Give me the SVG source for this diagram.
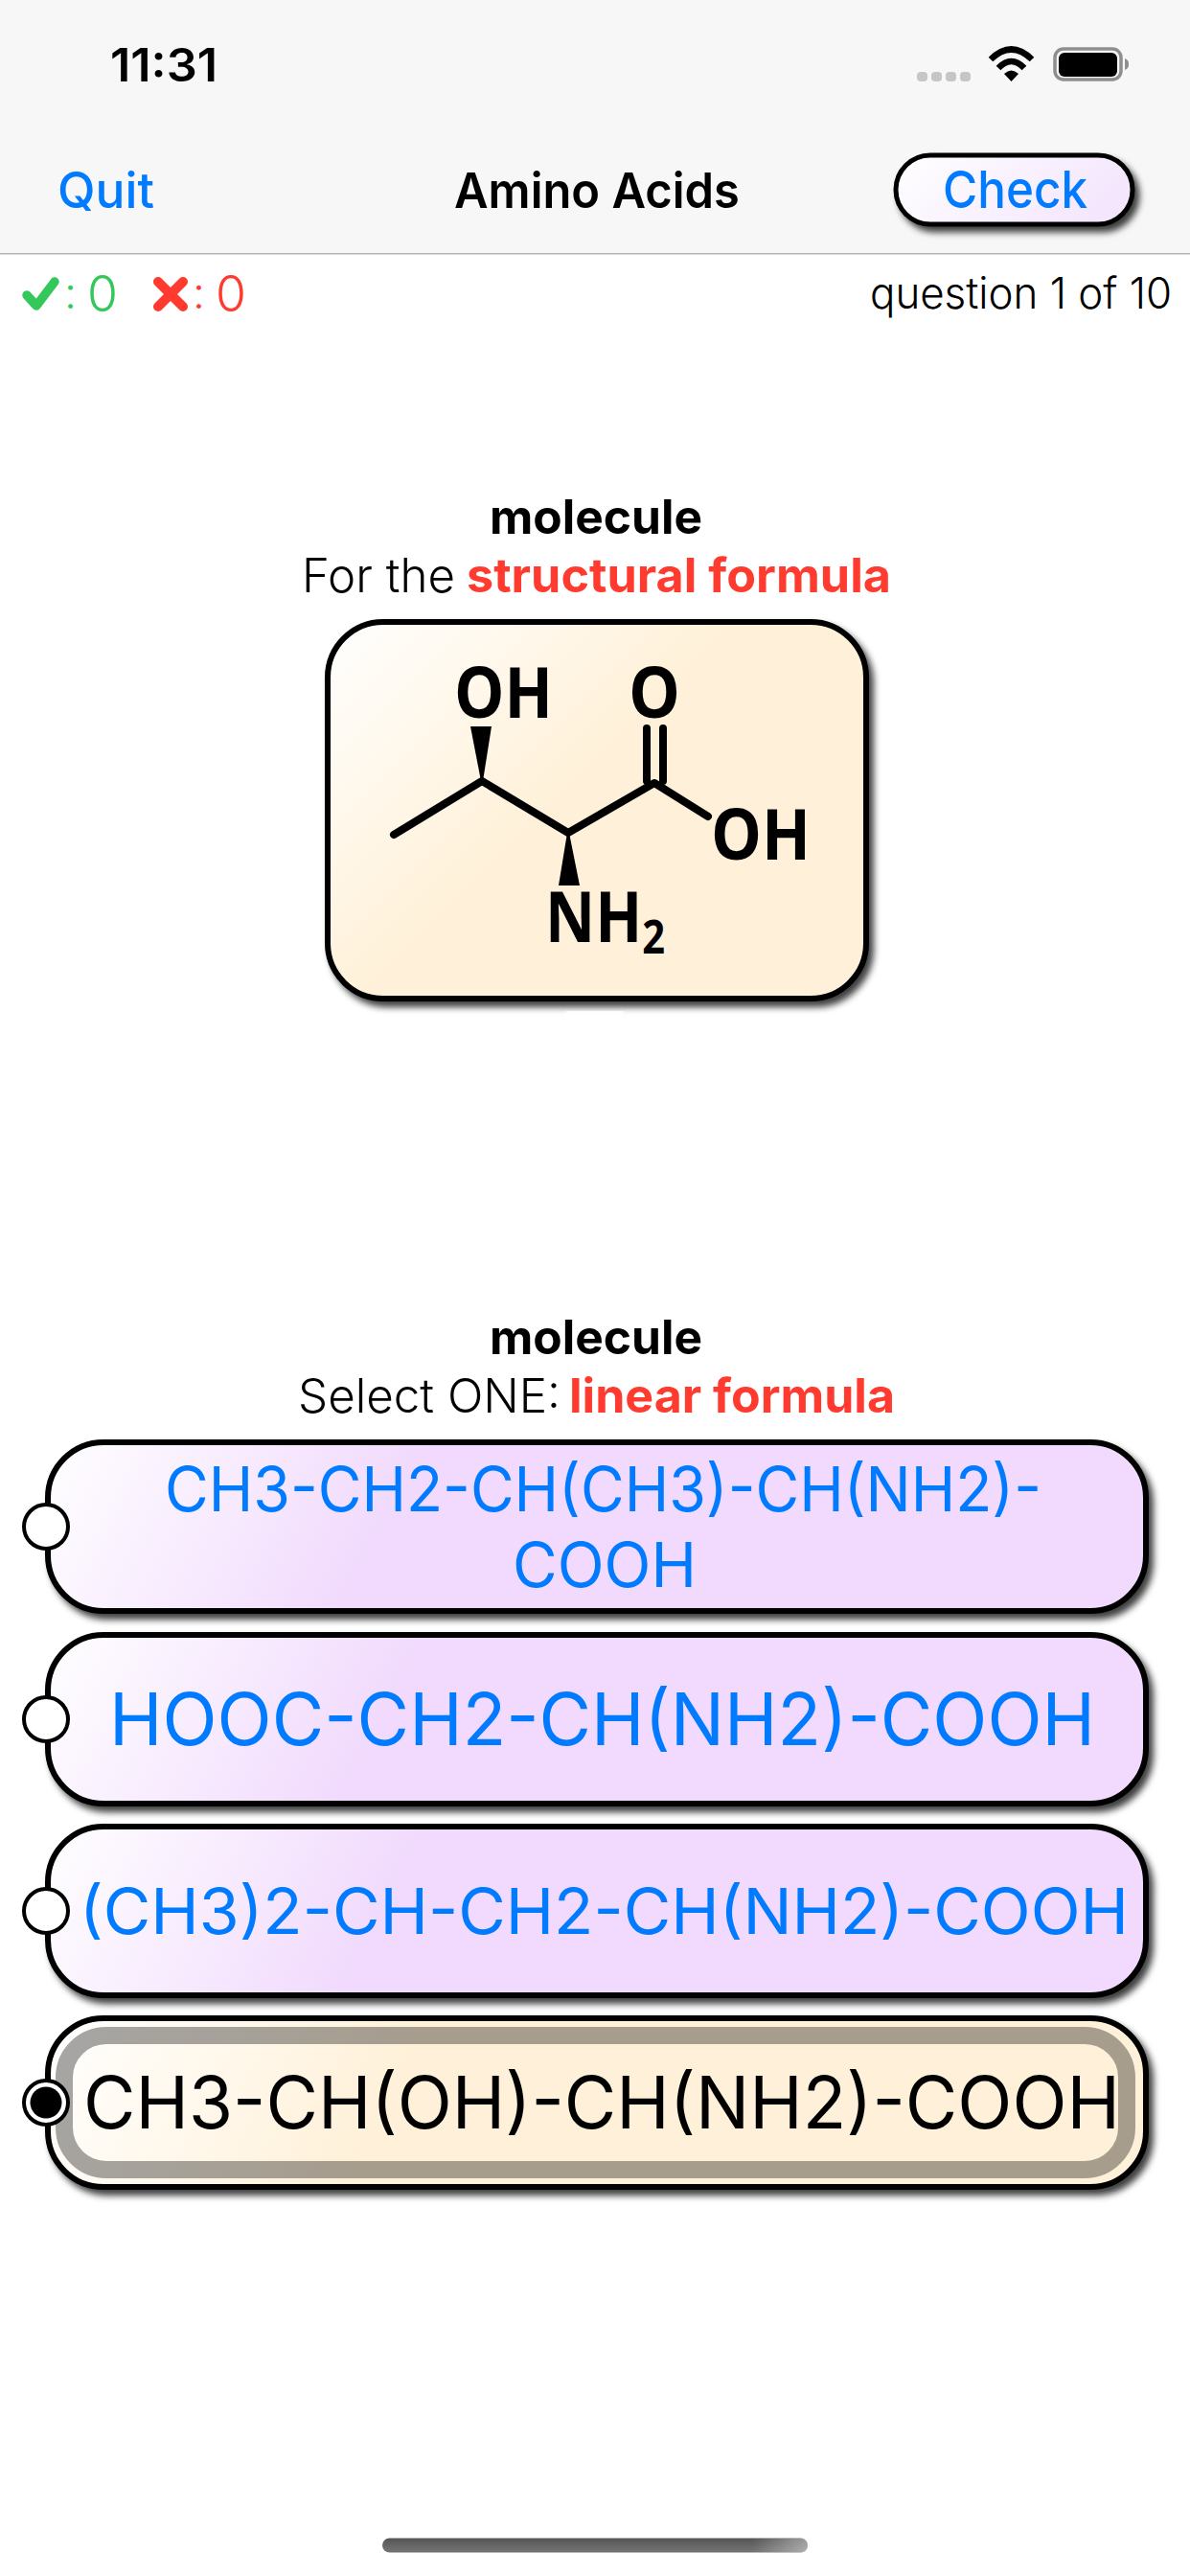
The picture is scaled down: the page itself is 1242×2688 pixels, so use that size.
<svg xmlns="http://www.w3.org/2000/svg" width="1242" height="2688" viewBox="0 0 1242 2688">
<defs>
<linearGradient id="purple" gradientUnits="userSpaceOnUse" x1="0" y1="0" x2="317" y2="164"><stop offset="0" stop-color="#fff"/><stop offset="1" stop-color="#f1dafd"/></linearGradient>
<linearGradient id="cream" gradientUnits="userSpaceOnUse" x1="0" y1="0" x2="317" y2="164"><stop offset="0" stop-color="#fff"/><stop offset="1" stop-color="#fff1d9"/></linearGradient>
<linearGradient id="cardfill" gradientUnits="userSpaceOnUse" x1="0" y1="0" x2="215" y2="215"><stop offset="0" stop-color="#fff"/><stop offset="1" stop-color="#fff1d9"/></linearGradient>
<linearGradient id="checkfill" x1="0" y1="0" x2="1" y2="0.3"><stop offset="0" stop-color="#fff"/><stop offset="1" stop-color="#f4e7fd"/></linearGradient>
<linearGradient id="home" x1="0" y1="0" x2="0" y2="1"><stop offset="0" stop-color="#555"/><stop offset="1" stop-color="#757575"/></linearGradient>
<linearGradient id="homeend" x1="0" y1="0" x2="1" y2="0"><stop offset="0.87" stop-color="#fff" stop-opacity="0"/><stop offset="1" stop-color="#fff" stop-opacity="0.42"/></linearGradient>
<filter id="sh" x="-10%" y="-20%" width="120%" height="145%"><feDropShadow dx="5" dy="6" stdDeviation="3.500" flood-color="#000" flood-opacity="0.75"/></filter>
</defs>
<style>
text{font-family:"Inter","Liberation Sans",sans-serif}
.box{stroke:#000;stroke-width:6;filter:url(#sh)}
.opt{fill:#007aff}
.sel{fill:#000}
.title{font-weight:700;font-size:50px;fill:#000}
.lite{font-weight:300;font-size:49px;fill:#000}
.red{font-weight:700;font-size:49px;fill:#ff3b30}
.radio{fill:#fff;stroke:#000;stroke-width:4}
.bond{stroke:#000;stroke-width:8;stroke-linecap:round;stroke-linejoin:round;fill:none}
.chem{font-family:"Open Sans","Liberation Sans",sans-serif;font-weight:700;fill:#000;font-size:74px}
</style>
<rect width="1242" height="2688" fill="#fff"/>
<g id="statusbar">
<rect width="1242" height="264" fill="#f7f7f7"/>
<rect y="264" width="1242" height="1.500" fill="#b4b4b4"/>
<text x="115" y="85" font-size="48" font-weight="600" fill="#000" textLength="112" lengthAdjust="spacingAndGlyphs">11:31</text>
<g fill="#c6c6c6"><rect x="957" y="75" width="11" height="10" rx="4"/><rect x="972" y="75" width="11" height="10" rx="4"/><rect x="987" y="75" width="11" height="10" rx="4"/><rect x="1002" y="75" width="11" height="10" rx="4"/></g>
<g fill="none" stroke="#000" stroke-width="6.500"><path d="M1034 62Q1055.500 41 1077 62"/><path d="M1042 71Q1055.500 57 1069 71"/></g>
<path d="M1048 77Q1055.500 70 1063 77L1055.500 85z" fill="#000"/>
<rect x="1101" y="51" width="69" height="32" rx="9" fill="none" stroke="#8e8e8e" stroke-width="3.500"/>
<rect x="1105" y="55" width="61" height="25" rx="6" fill="#000"/>
<path d="M1174 61a6 6 0 0 1 4 6a6 6 0 0 1-4 6z" fill="#8e8e8e"/>
</g>
<g id="navbar">
<text x="60" y="217" font-size="52" font-weight="500" fill="#007aff" textLength="101" lengthAdjust="spacingAndGlyphs">Quit</text>
<text x="474" y="217" font-size="51" font-weight="600" fill="#000" textLength="298" lengthAdjust="spacingAndGlyphs">Amino Acids</text>
<g id="check-button"><rect x="935" y="162" width="247" height="72" rx="36" fill="url(#checkfill)" class="box" style="stroke-width:5"/>
<text x="984" y="217" font-size="54" font-weight="500" fill="#007aff" textLength="151" lengthAdjust="spacingAndGlyphs">Check</text></g>
</g>
<g id="score">
<path d="M28 308L38 319L57 294" fill="none" stroke="#34c759" stroke-width="9.500" stroke-linecap="round" stroke-linejoin="round"/>
<text x="67" y="322" font-size="46" font-weight="300" fill="#34c759">:</text>
<text x="91" y="325" font-size="52" font-weight="300" fill="#34c759" textLength="32" lengthAdjust="spacingAndGlyphs">0</text>
<path d="M165 294L191 320M191 294L165 320" fill="none" stroke="#ff3b30" stroke-width="10" stroke-linecap="round"/>
<text x="201" y="322" font-size="46" font-weight="300" fill="#ff3b30">:</text>
<text x="225" y="325" font-size="52" font-weight="300" fill="#ff3b30" textLength="32" lengthAdjust="spacingAndGlyphs">0</text>
<text x="908" y="322" class="lite" style="font-size:45px" textLength="315" lengthAdjust="spacingAndGlyphs">question 1 of 10</text>
</g>
<g id="question">
<text x="511" y="557" class="title" textLength="222" lengthAdjust="spacingAndGlyphs">molecule</text>
<text x="315" y="618" class="lite" textLength="160" lengthAdjust="spacingAndGlyphs">For the</text>
<text x="487" y="618" class="red" textLength="443" lengthAdjust="spacingAndGlyphs">structural formula</text>
<g id="card" transform="translate(339 646)">
<rect x="3" y="3" width="562" height="393" rx="58" class="box" fill="url(#cardfill)"/>
<rect x="252" y="409" width="60" height="5" fill="#fff" fill-opacity="0.8"/>
</g>
<g id="structure">
<path class="bond" d="M411 871L503 815L593 869L683 817L739 852"/>
<path class="bond" d="M675 760V815M692 760V815"/>
<path d="M491 758H513L504 815H502z" fill="#000"/>
<path d="M592 869H594L605 924H583z" fill="#000"/>
<text x="474" y="749" class="chem" textLength="103" lengthAdjust="spacingAndGlyphs">OH</text>
<text x="656" y="749" class="chem" textLength="54" lengthAdjust="spacingAndGlyphs">O</text>
<text x="742" y="897" class="chem" textLength="104" lengthAdjust="spacingAndGlyphs">OH</text>
<text x="569" y="983" class="chem" textLength="125" lengthAdjust="spacingAndGlyphs">NH<tspan font-size="48" dy="12">2</tspan></text>
</g>
</g>
<g id="answers-heading">
<text x="511" y="1413" class="title" textLength="222" lengthAdjust="spacingAndGlyphs">molecule</text>
<text x="311" y="1473.500" class="lite" textLength="274" lengthAdjust="spacingAndGlyphs">Select ONE:</text>
<text x="594" y="1473.500" class="red" textLength="340" lengthAdjust="spacingAndGlyphs">linear formula</text>
</g>
<g id="option-1">
<g transform="translate(47 1502)"><rect x="3" y="3" width="1146" height="176" rx="58" class="box" fill="url(#purple)"/></g>
<text x="172" y="1577" class="opt" font-size="65" textLength="915" lengthAdjust="spacingAndGlyphs">CH3-CH2-CH(CH3)-CH(NH2)-</text>
<text x="535" y="1656" class="opt" font-size="65" textLength="192" lengthAdjust="spacingAndGlyphs">COOH</text>
<circle cx="48" cy="1593" r="23" class="radio"/>
</g>
<g id="option-2">
<g transform="translate(47 1703)"><rect x="3" y="3" width="1146" height="176" rx="58" class="box" fill="url(#purple)"/></g>
<text x="114" y="1821" class="opt" font-size="76" textLength="1029" lengthAdjust="spacingAndGlyphs">HOOC-CH2-CH(NH2)-COOH</text>
<circle cx="48" cy="1794" r="23" class="radio"/>
</g>
<g id="option-3">
<g transform="translate(47 1903)"><rect x="3" y="3" width="1146" height="176" rx="58" class="box" fill="url(#purple)"/></g>
<text x="83" y="2018" class="opt" font-size="66" textLength="1095" lengthAdjust="spacingAndGlyphs">(CH3)2-CH-CH2-CH(NH2)-COOH</text>
<circle cx="48" cy="1994" r="23" class="radio"/>
</g>
<g id="option-4">
<g transform="translate(47 2103)"><rect x="3" y="3" width="1146" height="176" rx="58" class="box" fill="url(#cream)"/>
<rect x="20" y="21" width="1109" height="140" rx="44" fill="none" stroke="#000" stroke-opacity="0.35" stroke-width="18"/></g>
<text x="87" y="2221" class="sel" font-size="76" textLength="1082" lengthAdjust="spacingAndGlyphs">CH3-CH(OH)-CH(NH2)-COOH</text>
<circle cx="48" cy="2194" r="23" class="radio"/>
<circle cx="48" cy="2194" r="16.500" fill="#000"/>
</g>
<g id="home-indicator"><rect x="399" y="2648.500" width="444" height="15" rx="7.500" fill="url(#home)"/><rect x="399" y="2648.500" width="444" height="15" rx="7.500" fill="url(#homeend)"/></g>
</svg>
